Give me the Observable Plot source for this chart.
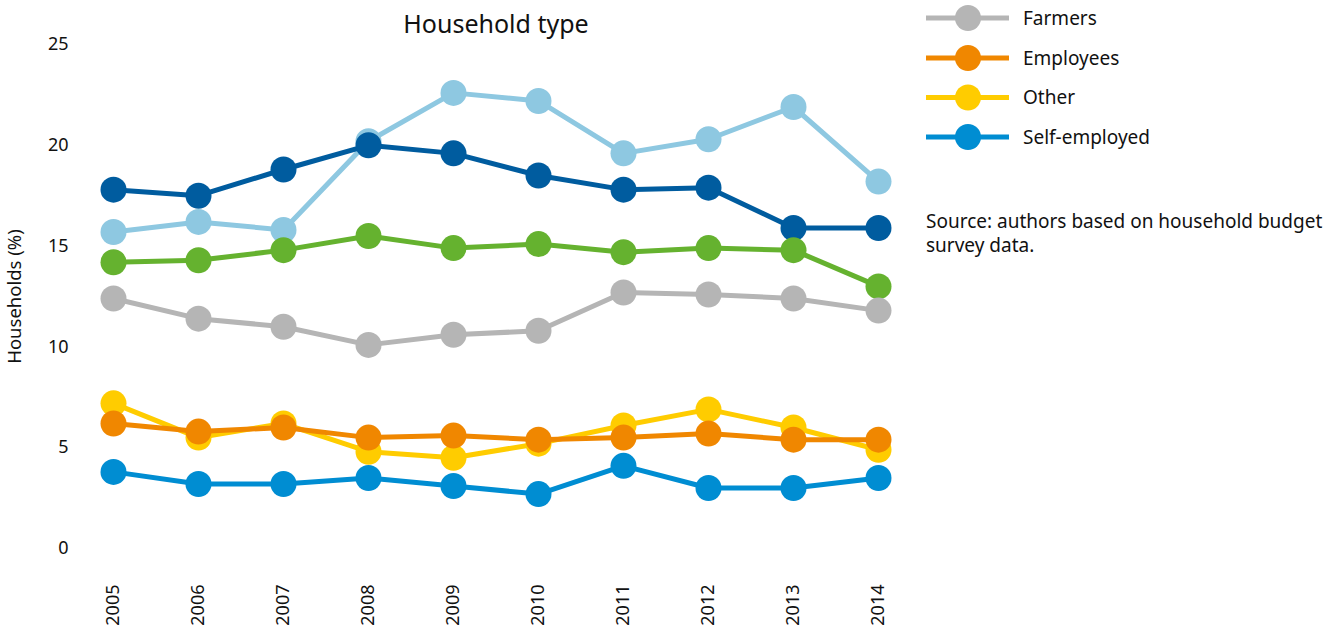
<!DOCTYPE html>
<html>
<head>
<meta charset="utf-8">
<script src="https://cdn.jsdelivr.net/npm/d3@7"></script>
<script src="https://cdn.jsdelivr.net/npm/@observablehq/plot@0.6"></script>
<style>
  html, body { margin: 0; padding: 0; background: #fff; }
  #wrap { position: relative; width: 1339px; height: 632px; font-family: "Noto Sans", sans-serif; }
  #legend { position: absolute; left: 0; top: 0; }
</style>
</head>
<body>
<div id="wrap"></div>
<script>
const years = [2005, 2006, 2007, 2008, 2009, 2010, 2011, 2012, 2013, 2014];

// unlabeled series (legend entries not visible in reference)
const seriesLightBlue = [15.7, 16.2, 15.8, 20.2, 22.6, 22.2, 19.6, 20.3, 21.9, 18.2];
const seriesDarkBlue  = [17.8, 17.5, 18.8, 20.0, 19.6, 18.5, 17.8, 17.9, 15.9, 15.9];
const seriesGreen     = [14.2, 14.3, 14.8, 15.5, 14.9, 15.1, 14.7, 14.9, 14.8, 13.0];
// labeled series
const farmers      = [12.4, 11.4, 11.0, 10.1, 10.6, 10.8, 12.7, 12.6, 12.4, 11.8];
const other        = [7.2, 5.5, 6.2, 4.8, 4.5, 5.2, 6.1, 6.9, 6.0, 4.9];
const employees    = [6.2, 5.8, 6.0, 5.5, 5.6, 5.4, 5.5, 5.7, 5.4, 5.4];
const selfEmployed = [3.8, 3.2, 3.2, 3.5, 3.1, 2.7, 4.1, 3.0, 3.0, 3.5];

const yTicks = [0, 5, 10, 15, 20, 25];
const title = "Household type";
const yLabel = "Households (%)";
const sourceLines = ["Source: authors based on household budget", "survey data."];

const series = [
  {name: "Series A", values: seriesLightBlue, color: "#8ec8e1"},
  {name: "Series B", values: seriesDarkBlue, color: "#005c9f"},
  {name: "Series C", values: seriesGreen, color: "#65b22f"},
  {name: "Farmers", values: farmers, color: "#b5b5b5"},
  {name: "Other", values: other, color: "#ffcc00"},
  {name: "Employees", values: employees, color: "#f08700"},
  {name: "Self-employed", values: selfEmployed, color: "#008dd2"}
];
const legendItems = ["Farmers", "Employees", "Other", "Self-employed"];

const marks = [];
for (const s of series) {
  const data = years.map((yr, i) => ({year: String(yr), value: s.values[i]}));
  marks.push(Plot.line(data, {x: "year", y: "value", stroke: s.color, strokeWidth: 5}));
  marks.push(Plot.dot(data, {x: "year", y: "value", fill: s.color, r: 13}));
}

const chart = Plot.plot({
  width: 1339,
  height: 632,
  marginLeft: 113,
  marginRight: 461,
  marginTop: 44,
  marginBottom: 84,
  style: {fontFamily: "'Noto Sans', sans-serif", fontSize: "18px", color: "#111", background: "#fff"},
  x: {type: "point", domain: years.map(String), padding: 0},
  y: {domain: [0, 25]},
  marks: [
    Plot.axisY({ticks: yTicks, tickSize: 0, tickPadding: 45, label: null, fontSize: 18}),
    Plot.axisX({tickSize: 0, tickPadding: 36, tickRotate: -90, label: null, fontSize: 18}),
    Plot.text([title], {frameAnchor: "top", lineAnchor: "middle", dy: -20, fontSize: 25, fill: "#111"}),
    Plot.text([yLabel], {frameAnchor: "left", textAnchor: "middle", lineAnchor: "middle", dx: -98, rotate: -90, fontSize: 18.5, fill: "#111"}),
    ...marks
  ]
});

const wrap = document.getElementById("wrap");
wrap.appendChild(chart);

// legend + source overlay
const svg = d3.select(wrap).append("svg")
  .attr("id", "legend").attr("width", 1339).attr("height", 632)
  .style("font-family", "'Noto Sans', sans-serif");
const rowY = [18, 58, 97.5, 137];
legendItems.forEach((name, i) => {
  const s = series.find(d => d.name === name);
  const g = svg.append("g").attr("transform", `translate(0,${rowY[i]})`);
  g.append("line").attr("x1", 926).attr("x2", 1009).attr("y1", 0).attr("y2", 0)
    .attr("stroke", s.color).attr("stroke-width", 5);
  g.append("circle").attr("cx", 968).attr("cy", 0).attr("r", 13).attr("fill", s.color);
  g.append("text").attr("x", 1023).attr("y", 0).attr("dy", "0.35em")
    .attr("font-size", 19).attr("fill", "#111").text(name);
});
sourceLines.forEach((t, i) => {
  svg.append("text").attr("x", 926).attr("y", 221 + i * 24).attr("dy", "0.35em")
    .attr("font-size", 19).attr("fill", "#111").text(t);
});
</script>
</body>
</html>
